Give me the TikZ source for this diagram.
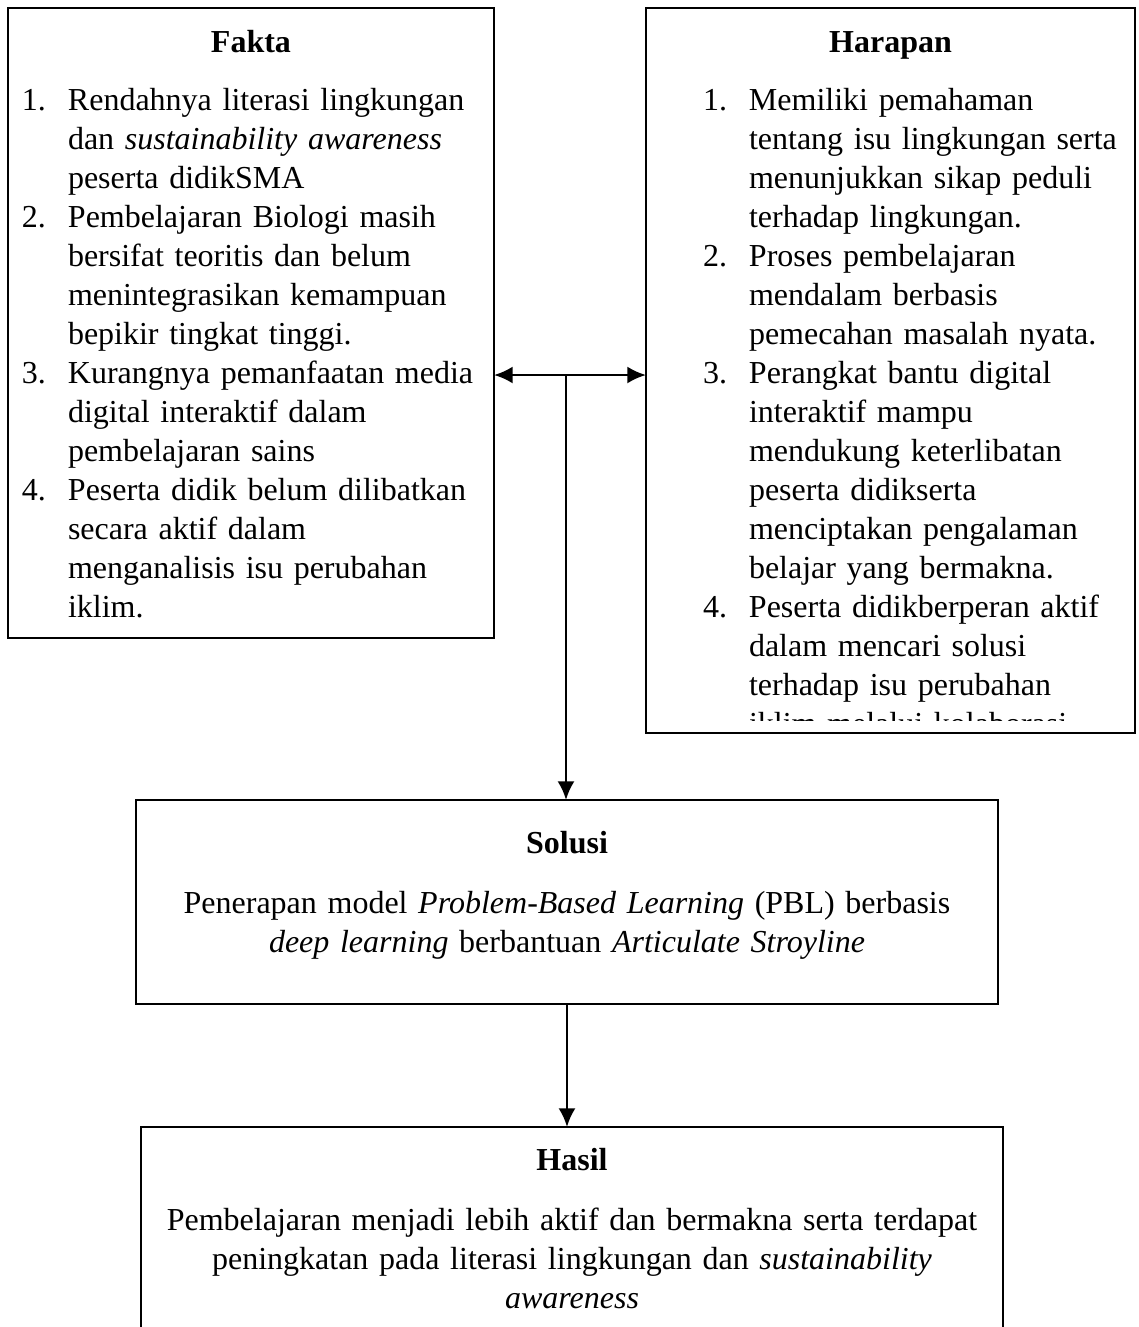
\documentclass[tikz,border=0pt]{standalone}
\usepackage{fontspec}
\setmainfont{Liberation Serif}
\usetikzlibrary{arrows.meta}
\newcommand{\nr}[1]{\makebox[17.25pt][l]{#1}}
\newcommand{\nrin}{\hspace*{17.25pt}}
\begin{document}
\begin{tikzpicture}[x=0.375pt,y=-0.375pt,inner sep=0pt,outer sep=0pt,line width=1pt,
box/.style={draw,rectangle,line width=1pt},
txt/.style={font=\fontsize{12pt}{14.625pt}\selectfont},
head/.style={font=\fontsize{12pt}{14.625pt}\selectfont\bfseries,anchor=base},
list/.style={txt,anchor=base west,text width=200pt,align=left},
para/.style={txt,anchor=base,text width=340pt,align=center},
>={Latex[length=7pt,width=6.4pt]}]
\useasboundingbox (0,0) rectangle (1138,1327);
% boxes
\draw (251,323) node[box,minimum width=182.25pt,minimum height=236.25pt] (fakta) {};
\draw (890.5,370.5) node[box,minimum width=183.375pt,minimum height=271.875pt] (harapan) {};
\draw (567,902) node[box,minimum width=323.25pt,minimum height=76.5pt] (solusi) {};
\draw (572,1236) node[box,minimum width=323.25pt,minimum height=81.75pt] (hasil) {};
% Fakta
\draw (251,52) node[head] (faktahead) {Fakta};
\draw (22,110) node[list] (faktatext) {\nr{1.}Rendahnya literasi lingkungan\\
\nrin dan \textit{sustainability awareness}\\
\nrin peserta didikSMA\\
\nr{2.}Pembelajaran Biologi masih\\
\nrin bersifat teoritis dan belum\\
\nrin menintegrasikan kemampuan\\
\nrin bepikir tingkat tinggi.\\
\nr{3.}Kurangnya pemanfaatan media\\
\nrin digital interaktif dalam\\
\nrin pembelajaran sains\\
\nr{4.}Peserta didik belum dilibatkan\\
\nrin secara aktif dalam\\
\nrin menganalisis isu perubahan\\
\nrin iklim.};
% Harapan
\draw (890.5,52) node[head] (harapanhead) {Harapan};
\begin{scope}
\clip (646,8) rectangle (1135,720);
\draw (703,110) node[list] (harapantext) {\nr{1.}Memiliki pemahaman\\
\nrin tentang isu lingkungan serta\\
\nrin menunjukkan sikap peduli\\
\nrin terhadap lingkungan.\\
\nr{2.}Proses pembelajaran\\
\nrin mendalam berbasis\\
\nrin pemecahan masalah nyata.\\
\nr{3.}Perangkat bantu digital\\
\nrin interaktif mampu\\
\nrin mendukung keterlibatan\\
\nrin peserta didikserta\\
\nrin menciptakan pengalaman\\
\nrin belajar yang bermakna.\\
\nr{4.}Peserta didikberperan aktif\\
\nrin dalam mencari solusi\\
\nrin terhadap isu perubahan\\
\nrin iklim melalui kolaborasi};
\end{scope}
% Solusi
\draw (567,853) node[head] (solusihead) {Solusi};
\draw (567,913) node[para] (solusitext) {Penerapan model \textit{Problem-Based Learning} (PBL) berbasis\\
\textit{deep learning} berbantuan \textit{Articulate Stroyline}};
% Hasil
\draw (572,1170) node[head] (hasilhead) {Hasil};
\draw (572,1230) node[para] (hasiltext) {Pembelajaran menjadi lebih aktif dan bermakna serta terdapat\\
peningkatan pada literasi lingkungan dan \textit{sustainability}\\
\textit{awareness}};
% arrows
\coordinate (jn) at (566,375);
\draw[<->] (fakta.east |- jn) -- (harapan.west |- jn);
\draw[->] (jn) -- (jn |- solusi.north);
\draw[->] (solusi.south) -- (solusi.south |- hasil.north);
\end{tikzpicture}
\end{document}
